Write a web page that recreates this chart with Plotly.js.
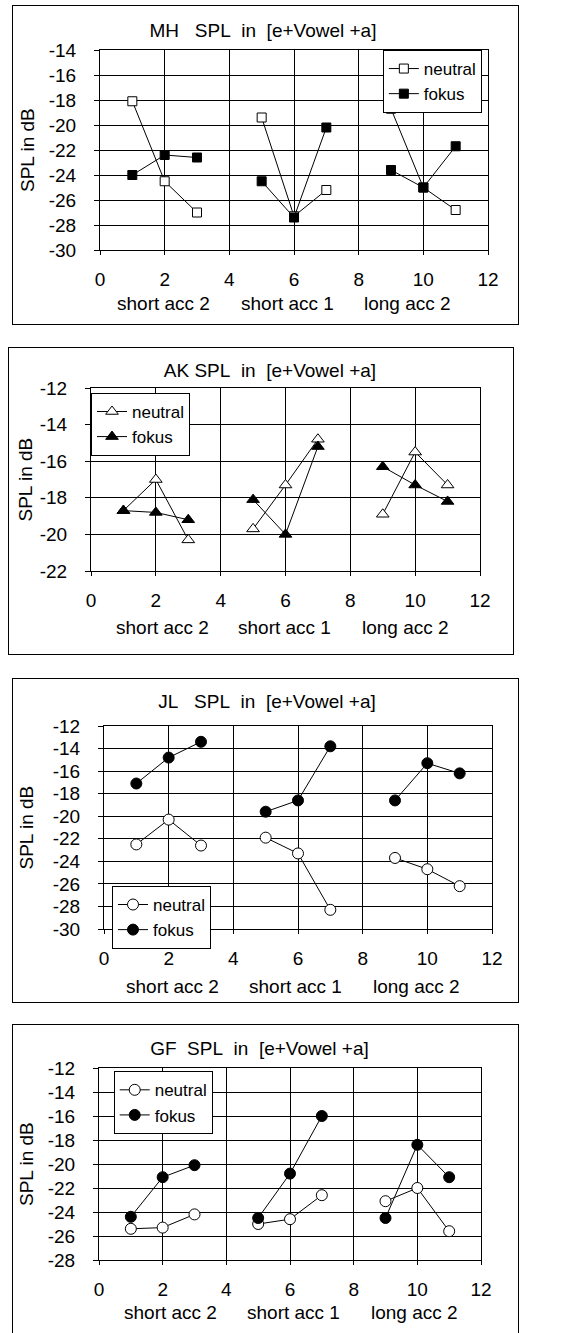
<!DOCTYPE html>
<html>
<head>
<meta charset="utf-8">
<script src="https://cdn.plot.ly/plotly-3.0.1.min.js"></script>
<style>
html,body{margin:0;padding:0;width:581px;height:1333px;overflow:hidden;background:#fff;}
.frame{position:absolute;border:1px solid #000;box-sizing:border-box;background:#fff;}
.plot{position:absolute;left:0;top:0;}
</style>
</head>
<body>
<div id="f1" class="frame" style="left:12px;top:5px;width:507px;height:320px;"><div id="p1" class="plot"></div></div>
<div id="f2" class="frame" style="left:8px;top:347px;width:506px;height:308px;"><div id="p2" class="plot"></div></div>
<div id="f3" class="frame" style="left:12px;top:678px;width:507px;height:325px;"><div id="p3" class="plot"></div></div>
<div id="f4" class="frame" style="left:12px;top:1024px;width:507px;height:330px;"><div id="p4" class="plot"></div></div>
<script>
// ---- data ----
const xPositions = [1, 2, 3, null, 5, 6, 7, null, 9, 10, 11];
const groupLabels = ["short acc 2", "short acc 1", "long acc 2"];
const seriesNames = ["neutral", "fokus"];

const titleMH = "MH   SPL  in  [e+Vowel +a]";
const mhNeutral = [-18.1, -24.5, -27.0, null, -19.4, -27.3, -25.2, null, -18.7, -25.0, -26.8];
const mhFokus   = [-24.0, -22.4, -22.6, null, -24.5, -27.4, -20.2, null, -23.6, -25.0, -21.7];

const titleAK = "AK SPL  in  [e+Vowel +a]";
const akNeutral = [-18.7, -17.0, -20.3, null, -19.7, -17.3, -14.8, null, -18.9, -15.5, -17.3];
const akFokus   = [-18.7, -18.8, -19.2, null, -18.1, -20.0, -15.2, null, -16.3, -17.3, -18.2];

const titleJL = "JL   SPL  in  [e+Vowel +a]";
const jlNeutral = [-22.5, -20.3, -22.6, null, -21.9, -23.3, -28.3, null, -23.7, -24.7, -26.2];
const jlFokus   = [-17.1, -14.8, -13.4, null, -19.6, -18.6, -13.8, null, -18.6, -15.3, -16.2];

const titleGF = "GF  SPL  in  [e+Vowel +a]";
const gfNeutral = [-25.4, -25.3, -24.2, null, -25.0, -24.6, -22.6, null, -23.1, -22.0, -25.6];
const gfFokus   = [-24.4, -21.1, -20.1, null, -24.5, -20.8, -16.0, null, -24.5, -18.4, -21.1];

const yTitle = "SPL in dB";

// ---- layout helpers ----
const FONT = "Liberation Sans, Arial, sans-serif";

function nb(s){ return s.replace(/ /g, "\u00a0"); }

function ticksFor(range) {
  const vals = [];
  for (let v = range[0]; v <= range[1] + 1e-9; v += 2) vals.push(v);
  return {vals: vals, text: vals.map(v => String(v))};
}

function makeChart(id, cfg) {
  const traces = [
    {x: xPositions, y: cfg.neutral, name: seriesNames[0], type: "scatter", mode: "lines+markers",
     line: {color: "#000", width: 1},
     marker: {symbol: cfg.symbol, size: cfg.msize, color: "#fff", line: {color: "#000", width: 1}}},
    {x: xPositions, y: cfg.fokus, name: seriesNames[1], type: "scatter", mode: "lines+markers",
     line: {color: "#000", width: 1},
     marker: {symbol: cfg.symbol, size: cfg.msize, color: "#000", line: {color: "#000", width: 1}}}
  ];
  const pw = cfg.w - cfg.m.l - cfg.m.r;
  const ph = cfg.h - cfg.m.t - cfg.m.b;
  const ann = [];
  groupLabels.forEach((t, i) => {
    ann.push({text: nb(t), xref: "paper", yref: "paper",
      x: (cfg.labelX[i] - cfg.m.l) / pw, y: -cfg.labelDy / ph,
      xanchor: "center", yanchor: "middle", showarrow: false,
      font: {family: FONT, size: 19, color: "#000"}});
  });
  ann.push({text: yTitle, xref: "paper", yref: "paper", x: -cfg.yTitleDx / pw, y: 0.5,
    textangle: -90, xanchor: "center", yanchor: "middle", showarrow: false,
    font: {family: FONT, size: 19, color: "#000"}});
  const xt = ticksFor([0, 12]);
  const yt = ticksFor(cfg.yRange);
  const layout = {
    width: cfg.w, height: cfg.h,
    margin: cfg.m,
    paper_bgcolor: "#fff", plot_bgcolor: "#fff",
    font: {family: FONT, color: "#000"},
    title: {text: nb(cfg.title), x: cfg.titleX, xref: "paper", xanchor: "center",
      y: cfg.titleY, yref: "container", yanchor: "middle",
      font: {family: FONT, size: 19, color: "#000"}},
    showlegend: true,
    legend: {x: cfg.legX, y: cfg.legY, xanchor: "left", yanchor: "top",
      bgcolor: "#fff", bordercolor: "#000", borderwidth: 1,
      font: {family: FONT, size: 17, color: "#000"}, tracegroupgap: 0,
      itemsizing: "trace"},
    xaxis: {range: [0, 12], tickmode: "array", tickvals: xt.vals, ticktext: xt.text,
      showgrid: true, gridcolor: "#000", gridwidth: 1,
      showline: true, linecolor: "#000", linewidth: 1, mirror: true, zeroline: false,
      ticks: "outside", ticklen: 4, tickcolor: "#000", ticklabelstandoff: 8,
      tickfont: {family: FONT, size: 19, color: "#000"}, fixedrange: true},
    yaxis: {range: cfg.yRange, tickmode: "array", tickvals: yt.vals, ticktext: yt.text,
      showgrid: true, gridcolor: "#000", gridwidth: 1,
      showline: true, linecolor: "#000", linewidth: 1, mirror: true, zeroline: false,
      ticks: "outside", ticklen: 5, tickcolor: "#000", ticklabelstandoff: 14,
      tickfont: {family: FONT, size: 19, color: "#000"}, fixedrange: true},
    annotations: ann
  };
  Plotly.newPlot(id, traces, layout, {staticPlot: true, displayModeBar: false});
}

makeChart("p1", {title: titleMH, neutral: mhNeutral, fokus: mhFokus, symbol: "square", msize: 9,
  w: 505, h: 318, m: {l: 87, r: 30, t: 44, b: 74, pad: 0}, yRange: [-30, -14],
  titleX: 0.42, titleY: 0.925, legX: 0.729, legY: 1.0,
  labelX: [150, 274, 394], labelDy: 53, yTitleDx: 73});

makeChart("p2", {title: titleAK, neutral: akNeutral, fokus: akFokus, symbol: "triangle-up", msize: 11,
  w: 504, h: 306, m: {l: 82, r: 33, t: 40, b: 83, pad: 0}, yRange: [-22, -12],
  titleX: 0.46, titleY: 0.928, legX: 0.0, legY: 0.973,
  labelX: [153, 275, 396], labelDy: 56, yTitleDx: 66});

makeChart("p3", {title: titleJL, neutral: jlNeutral, fokus: jlFokus, symbol: "circle", msize: 11,
  w: 505, h: 323, m: {l: 91, r: 26, t: 47, b: 73, pad: 0}, yRange: [-30, -12],
  titleX: 0.42, titleY: 0.93, legX: 0.0206, legY: 0.212,
  labelX: [159, 282, 403], labelDy: 57, yTitleDx: 78});

makeChart("p4", {title: titleGF, neutral: gfNeutral, fokus: gfFokus, symbol: "circle", msize: 11,
  w: 505, h: 318, m: {l: 86, r: 37, t: 43, b: 83, pad: 0}, yRange: [-28, -12],
  titleX: 0.42, titleY: 0.927, legX: 0.0385, legY: 0.983,
  labelX: [157, 280, 401], labelDy: 52, yTitleDx: 73});
</script>
</body>
</html>
